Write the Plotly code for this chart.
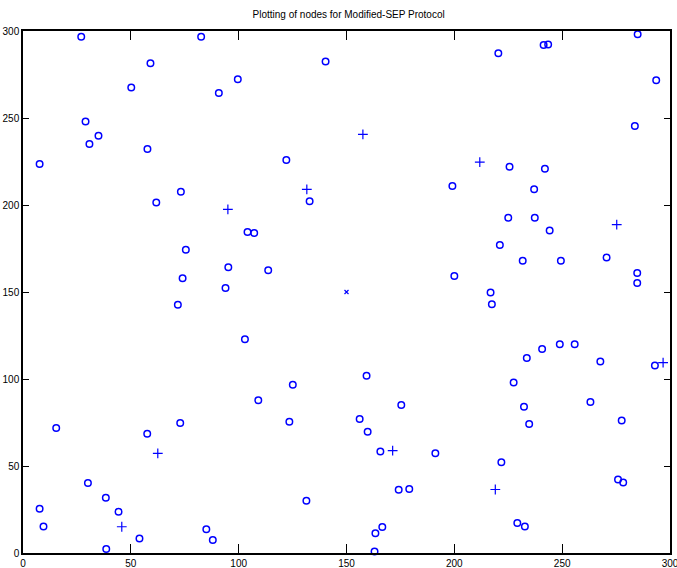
import plotly.graph_objects as go

# Normal nodes (circles)
node_x = [7.7, 27, 29, 30.8, 35, 50.2, 59.1, 57.7, 61.8, 73.2, 82.6, 90.8, 99.6, 140.3, 122.1, 132.9,
          199.1, 220.4, 241.4, 243.5, 285, 293.6, 283.7, 225.6, 242, 237, 225, 237.3, 244.2, 221.1,
          231.7, 249.4, 270.6, 284.8, 284.8, 200, 216.8, 217.4, 233.6, 240.7, 248.9, 255.8, 267.7,
          293, 104.1, 107.2, 95.2, 113.7, 93.9, 102.9, 159.3, 75.5, 74, 71.8, 15.4, 7.7, 9.5, 30.1,
          38.4, 44.3, 38.6, 54, 57.6, 72.9, 85, 88, 125.1, 109.1, 175.4, 123.5, 156.1, 159.8, 165.7,
          191.2, 174.2, 179.1, 131.4, 166.6, 163.4, 163, 227.5, 263.1, 232.3, 277.6, 234.7, 221.8,
          275.9, 278.3, 229.2, 232.7]
node_y = [223.5, 296.7, 248, 235, 239.8, 267.6, 281.4, 232.2, 201.5, 207.6, 296.7, 264.4, 272.2, 282.4,
          225.9, 202.1, 210.9, 287.2, 291.9, 292.3, 298.2, 271.7, 245.4, 222, 220.8, 209.1, 192.7,
          192.7, 185.3, 177, 168, 168, 169.8, 160.9, 155.2, 159.2, 149.7, 142.9, 112.1, 117.2, 120,
          120, 110, 107.7, 184.5, 183.9, 164.2, 162.5, 152.3, 122.8, 101.9, 174.3, 157.9, 142.7, 71.8,
          25.5, 15.3, 40.2, 31.8, 23.7, 2.3, 8.4, 68.6, 74.7, 13.6, 7.5, 96.7, 87.8, 85.1, 75.5, 77,
          69.7, 58.4, 57.3, 36.4, 36.8, 30.1, 14.9, 11.3, 0.8, 98, 86.8, 84, 76.2, 74.1, 52.2, 42.2,
          40.5, 17.2, 15.3]

# Cluster heads (+)
head_x = [95, 131.6, 157.6, 211.8, 275.3, 296.8, 45.8, 62.5, 171.4, 219]
head_y = [197.5, 209, 240.6, 224.6, 188.7, 109.4, 15.1, 57.3, 58.8, 36.5]

# Sink (x)
sink_x = [150]
sink_y = [150]

x_ticks = [0, 50, 100, 150, 200, 250, 300]
y_ticks = [0, 50, 100, 150, 200, 250, 300]

BLUE = "#0000FF"
FONT = "Liberation Sans Narrow, Arial Narrow, Liberation Sans, Arial, sans-serif"

fig = go.Figure()
fig.add_trace(go.Scatter(x=node_x, y=node_y, mode="markers",
                         marker=dict(symbol="circle-open", size=6.5, color=BLUE,
                                     line=dict(width=1.5, color=BLUE)),
                         showlegend=False, cliponaxis=False))
fig.add_trace(go.Scatter(x=head_x, y=head_y, mode="markers",
                         marker=dict(symbol="cross-thin-open", size=7, color=BLUE,
                                     line=dict(width=1.2, color=BLUE)),
                         showlegend=False, cliponaxis=False))
fig.add_trace(go.Scatter(x=sink_x, y=sink_y, mode="markers",
                         marker=dict(symbol="x-thin-open", size=4, color=BLUE,
                                     line=dict(width=1.2, color=BLUE)),
                         showlegend=False, cliponaxis=False))

axis_common = dict(showgrid=False, zeroline=False, showline=True, linecolor="black",
                   linewidth=1.5, mirror="ticks", ticks="inside", tickcolor="black",
                   tickwidth=1, automargin=False, ticklabeloverflow="allow",
                   tickfont=dict(family=FONT, size=10, color="black"))

fig.update_xaxes(range=[0, 300], tickvals=x_ticks, ticktext=[str(v) for v in x_ticks],
                 ticklen=9, **axis_common)
fig.update_yaxes(range=[0, 300], tickvals=y_ticks, ticktext=[str(v) for v in y_ticks],
                 ticklen=6, **axis_common)

fig.update_layout(
    width=677, height=568,
    margin=dict(l=23, r=7, t=31, b=15),
    paper_bgcolor="white", plot_bgcolor="white",
    title=dict(text="Plotting of nodes for Modified-SEP Protocol",
               x=0.515, xanchor="center", y=0.974, yanchor="middle",
               font=dict(family=FONT, size=10, color="black")),
)

# remove the default page margin so the figure fills the window exactly
fig.write_html("out.html", config={"displayModeBar": False},
               post_script="document.body.style.margin='0';document.body.style.overflow='hidden';")
